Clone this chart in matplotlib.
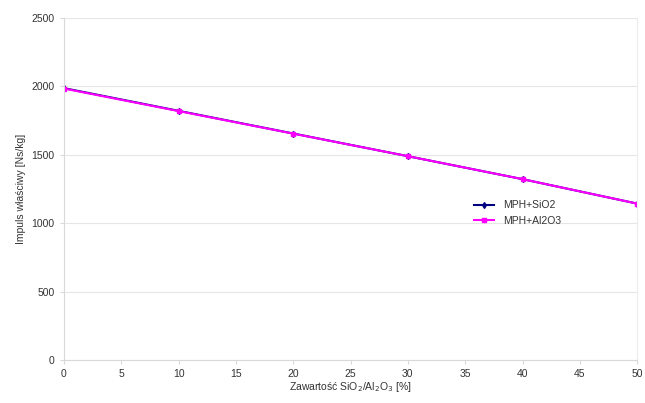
import matplotlib.pyplot as plt
import numpy as np

plt.rcParams['font.family'] = ['Liberation Sans', 'DejaVu Sans']

zawartosc = [0, 10, 20, 30, 40, 50]
mph_sio2 = [1988, 1822, 1656, 1490, 1322, 1143]
mph_al2o3 = [1985, 1820, 1655, 1490, 1322, 1143]

fig = plt.figure(figsize=(6.45, 4.03), dpi=100)
ax = fig.add_axes([0.099, 0.107, 0.889, 0.848])

ax.plot(zawartosc, mph_sio2, color='#000080', lw=1.5, marker='d', ms=3, label='MPH+SiO2')
ax.plot(zawartosc, mph_al2o3, color='#ff00ff', lw=1.5, marker='s', ms=3.5, label='MPH+Al2O3')

ax.set_xlim(0, 50)
ax.set_ylim(0, 2500)
ax.set_xticks(np.arange(0, 51, 5))
ax.set_yticks(np.arange(0, 2501, 500))
ax.grid(axis='y', color='#e6e6e6', lw=0.8)
ax.set_axisbelow(True)
ax.spines['top'].set_visible(False)
ax.spines['right'].set_color('#ececec')
for s in ['left', 'bottom']:
    ax.spines[s].set_color('#d9d9d9')
ax.tick_params(length=3, color='#d9d9d9', labelsize=7.5, labelcolor='#333333')

ax.set_xlabel('Zawartość SiO$_2$/Al$_2$O$_3$ [%]', fontsize=7.5, color='#333333', labelpad=1)
ax.set_ylabel('Impuls właściwy [Ns/kg]', fontsize=7.5, color='#333333', labelpad=4)

ax.legend(loc='center left', bbox_to_anchor=(0.7, 0.43), frameon=False, fontsize=7.5,
          handlelength=2, labelcolor='#333333', borderpad=0.3, labelspacing=0.5)

fig.savefig('out.png', dpi=100)
